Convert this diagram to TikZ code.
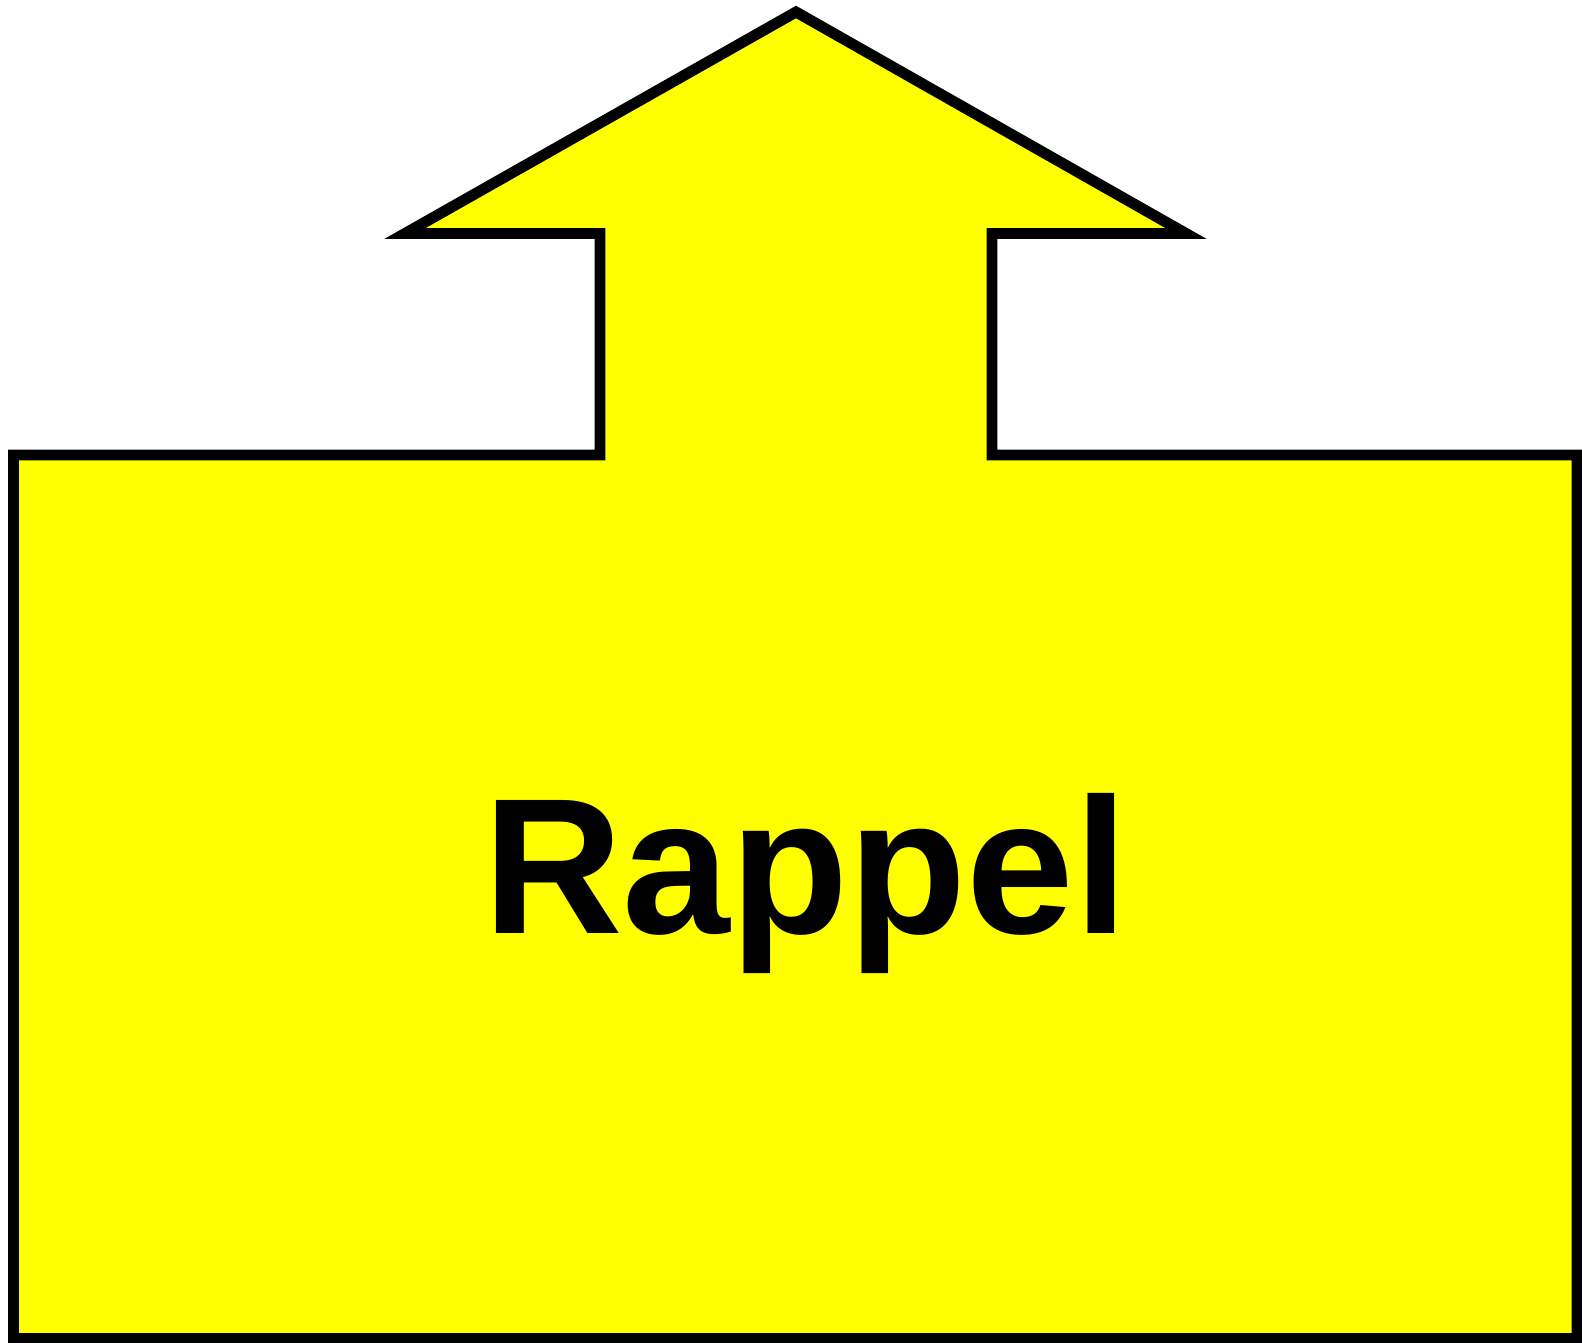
\documentclass[tikz,border=0pt]{standalone}
\usepackage{fontspec}
\setmainfont{Liberation Sans}
\usepackage{tikz}
\usetikzlibrary{positioning,calc}
\usepackage{xcolor}
\definecolor{notecol}{RGB}{255,255,0}
\tikzset{
  callout/.style={draw=black,fill=notecol,line width=3.1pt,line join=miter,miter limit=10},
  label/.style  ={inner sep=0pt,font=\fontsize{55}{60}\selectfont\bfseries},
}
\begin{document}
\begin{tikzpicture}[x=0.01cm,y=-0.01cm]
  \useasboundingbox (0,0) rectangle (1582,1343);
  % arrow-shaped callout
  \path[callout] (796,12) -- (1186,233.5) -- (992,233.5) -- (992,455)
    -- (1577,455) -- (1577,1338.5) -- (13.5,1338.5) -- (13.5,455)
    -- (600,455) -- (600,233.5) -- (405,233.5) -- cycle;
  \node[label,anchor=base] (rappel) at (805.5,933) {Rappel};
\end{tikzpicture}
\end{document}
